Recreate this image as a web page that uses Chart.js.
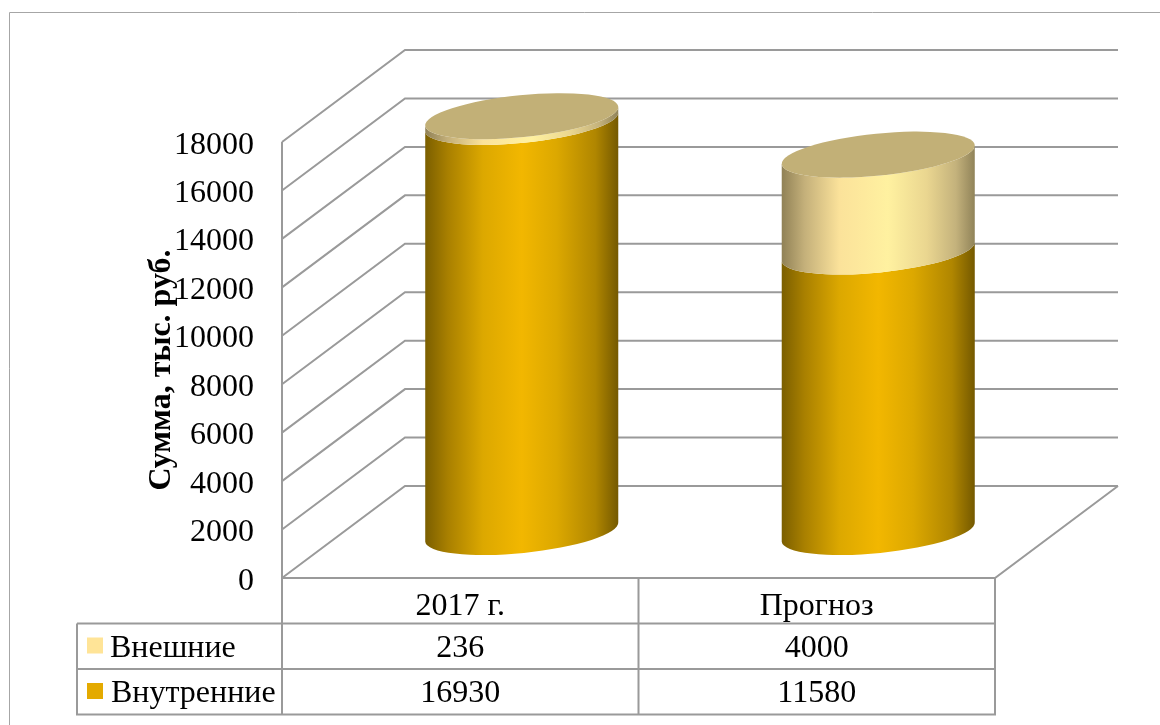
<!DOCTYPE html>
<html>
<head>
<meta charset="utf-8">
<script src="https://cdn.jsdelivr.net/npm/chart.js@4"></script>
<style>
  html, body { margin: 0; background: #fff; }
  #wrap { position: relative; width: 1160px; height: 725px; }
</style>
</head>
<body>
<div id="wrap"><canvas id="chart" width="1160" height="725"></canvas></div>
<script>
const categories = ['2017 г.', 'Прогноз'];
const inner = [16930, 11580];
const outer = [236, 4000];
const innerName = 'Внутренние';
const outerName = 'Внешние';
const yTitle = 'Сумма, тыс. руб.';

const FONT = '"Liberation Serif", "Times New Roman", serif';
const LINE = '#9a9a9a';
// 3d depth of the box
const DX = 123, DY = 92;

function cylinderBody(ctx, cx, rx, ry, tilt, topY, botY, stops) {
  const g = ctx.createLinearGradient(cx - rx, 0, cx + rx, 0);
  stops.forEach(s => g.addColorStop(s[0], s[1]));
  const rot = -Math.atan(tilt);
  ctx.save();
  ctx.beginPath();
  ctx.ellipse(cx, topY, rx, ry, rot, Math.PI, 0, true);
  ctx.ellipse(cx, botY, rx, ry, rot, 0, Math.PI, false);
  ctx.closePath();
  ctx.fillStyle = g;
  ctx.fill();
  ctx.restore();
}

const innerStops = [[0, '#7a5e00'], [0.12, '#a98000'], [0.3, '#dca800'], [0.5, '#f2b700'], [0.68, '#dca800'], [0.88, '#b08600'], [1, '#735800']];
const outerStops = [[0, '#8f8055'], [0.12, '#c4b07a'], [0.3, '#fbe29a'], [0.55, '#fff1a0'], [0.75, '#ead690'], [0.9, '#c4b27c'], [1, '#8f8258']];

const box3d = {
  id: 'box3d',
  beforeDatasetsDraw(chart) {
    const { ctx, scales: { x, y } } = chart;
    const L = x.left, R = x.right, B = y.getPixelForValue(0), T = y.getPixelForValue(18000);
    ctx.save();
    ctx.strokeStyle = LINE;
    ctx.lineWidth = 2;
    y.ticks.forEach(t => {
      const py = y.getPixelForValue(t.value);
      ctx.beginPath();
      ctx.moveTo(L, py);
      ctx.lineTo(L + DX, py - DY);
      ctx.lineTo(R + DX, py - DY);
      ctx.stroke();
    });
    ctx.beginPath();
    ctx.moveTo(L, T); ctx.lineTo(L, B); ctx.lineTo(R, B); ctx.lineTo(R + DX, B - DY);
    ctx.stroke();
    ctx.restore();
  },
  afterDatasetsDraw(chart) {
    const { ctx } = chart;
    const a = chart.getDatasetMeta(0).data;
    const b = chart.getDatasetMeta(1).data;
    const rx = 97, ry = 21, tilt = 0.1;
    a.forEach((bar, i) => {
      const cx = bar.x + DX / 2;
      const base = bar.base - DY / 2;
      const mid = bar.y - DY / 2;
      const top = b[i].y - DY / 2;
      cylinderBody(ctx, cx, rx, ry, tilt, mid, base, innerStops);
      cylinderBody(ctx, cx, rx, ry, tilt, top, mid, outerStops);
      ctx.beginPath();
      ctx.ellipse(cx, top, rx, ry, -Math.atan(tilt), 0, Math.PI * 2);
      ctx.fillStyle = '#c2b077';
      ctx.fill();
    });
  }
};

const dataTable = {
  id: 'dataTable',
  afterDraw(chart) {
    const { ctx, scales: { x, y } } = chart;
    const L = x.left, R = x.right, B = y.getPixelForValue(0);
    const rowH = 45.5, left = 77;
    const r1 = B + rowH, r2 = r1 + rowH, r3 = r2 + rowH;
    const midX = (L + R) / 2;
    ctx.save();
    // outer frame of the figure, only top and left are visible
    ctx.strokeStyle = '#a6a6a6';
    ctx.lineWidth = 1;
    ctx.beginPath();
    ctx.moveTo(9.5, 725); ctx.lineTo(9.5, 12.5); ctx.lineTo(1160, 12.5);
    ctx.stroke();

    ctx.strokeStyle = LINE;
    ctx.lineWidth = 2;
    ctx.beginPath();
    ctx.moveTo(L, B); ctx.lineTo(L, r3);
    ctx.moveTo(midX, B); ctx.lineTo(midX, r3);
    ctx.moveTo(R, B); ctx.lineTo(R, r3);
    ctx.moveTo(left, r1); ctx.lineTo(R, r1);
    ctx.moveTo(left, r2); ctx.lineTo(R, r2);
    ctx.moveTo(left - 1, r3); ctx.lineTo(R + 1, r3);
    ctx.moveTo(left, r1); ctx.lineTo(left, r3);
    ctx.stroke();

    ctx.fillStyle = '#000';
    ctx.font = '32px ' + FONT;
    ctx.textBaseline = 'alphabetic';

    // y tick labels, placed from the scale
    ctx.textAlign = 'right';
    y.ticks.forEach(t => {
      ctx.fillText(String(t.value), 254, y.getPixelForValue(t.value) + 11.5);
    });

    ctx.textAlign = 'center';
    categories.forEach((c, i) => {
      const cx = x.getPixelForValue(i);
      ctx.fillText(c, cx, B + 37);
      ctx.fillText(String(outer[i]), cx, r1 + 33);
      ctx.fillText(String(inner[i]), cx, r2 + 33);
    });
    ctx.textAlign = 'left';
    ctx.fillText(outerName, 110, r1 + 33);
    ctx.fillText(innerName, 111, r2 + 33);
    ctx.fillStyle = '#ffe497';
    ctx.fillRect(87, r1 + 14, 16, 16);
    ctx.fillStyle = '#e4aa00';
    ctx.fillRect(87, r2 + 14, 16, 16);

    // axis title sits a bit below the middle of the axis
    ctx.translate(162, 370);
    ctx.rotate(-Math.PI / 2);
    ctx.textAlign = 'center';
    ctx.textBaseline = 'middle';
    ctx.fillStyle = '#000';
    ctx.font = 'bold 32px ' + FONT;
    ctx.fillText(yTitle, 0, 0);
    ctx.restore();
  }
};

new Chart(document.getElementById('chart'), {
  type: 'bar',
  data: {
    labels: categories,
    datasets: [
      { label: innerName, data: inner, backgroundColor: 'rgba(0,0,0,0)', stack: 's' },
      { label: outerName, data: outer, backgroundColor: 'rgba(0,0,0,0)', stack: 's' }
    ]
  },
  options: {
    responsive: false,
    animation: false,
    layout: { padding: { left: 0, top: 142, right: 165, bottom: 0 } },
    plugins: { legend: { display: false }, tooltip: { enabled: false } },
    scales: {
      x: {
        stacked: true,
        position: 'bottom',
        grid: { display: false },
        border: { display: false },
        ticks: { display: false },
        afterFit(s) { s.height = 147; }
      },
      y: {
        stacked: true,
        min: 0,
        max: 18000,
        grid: { display: false },
        border: { display: false },
        ticks: { stepSize: 2000, display: false },
        afterFit(s) { s.width = 282; }
      }
    }
  },
  plugins: [box3d, dataTable]
});
</script>
</body>
</html>
